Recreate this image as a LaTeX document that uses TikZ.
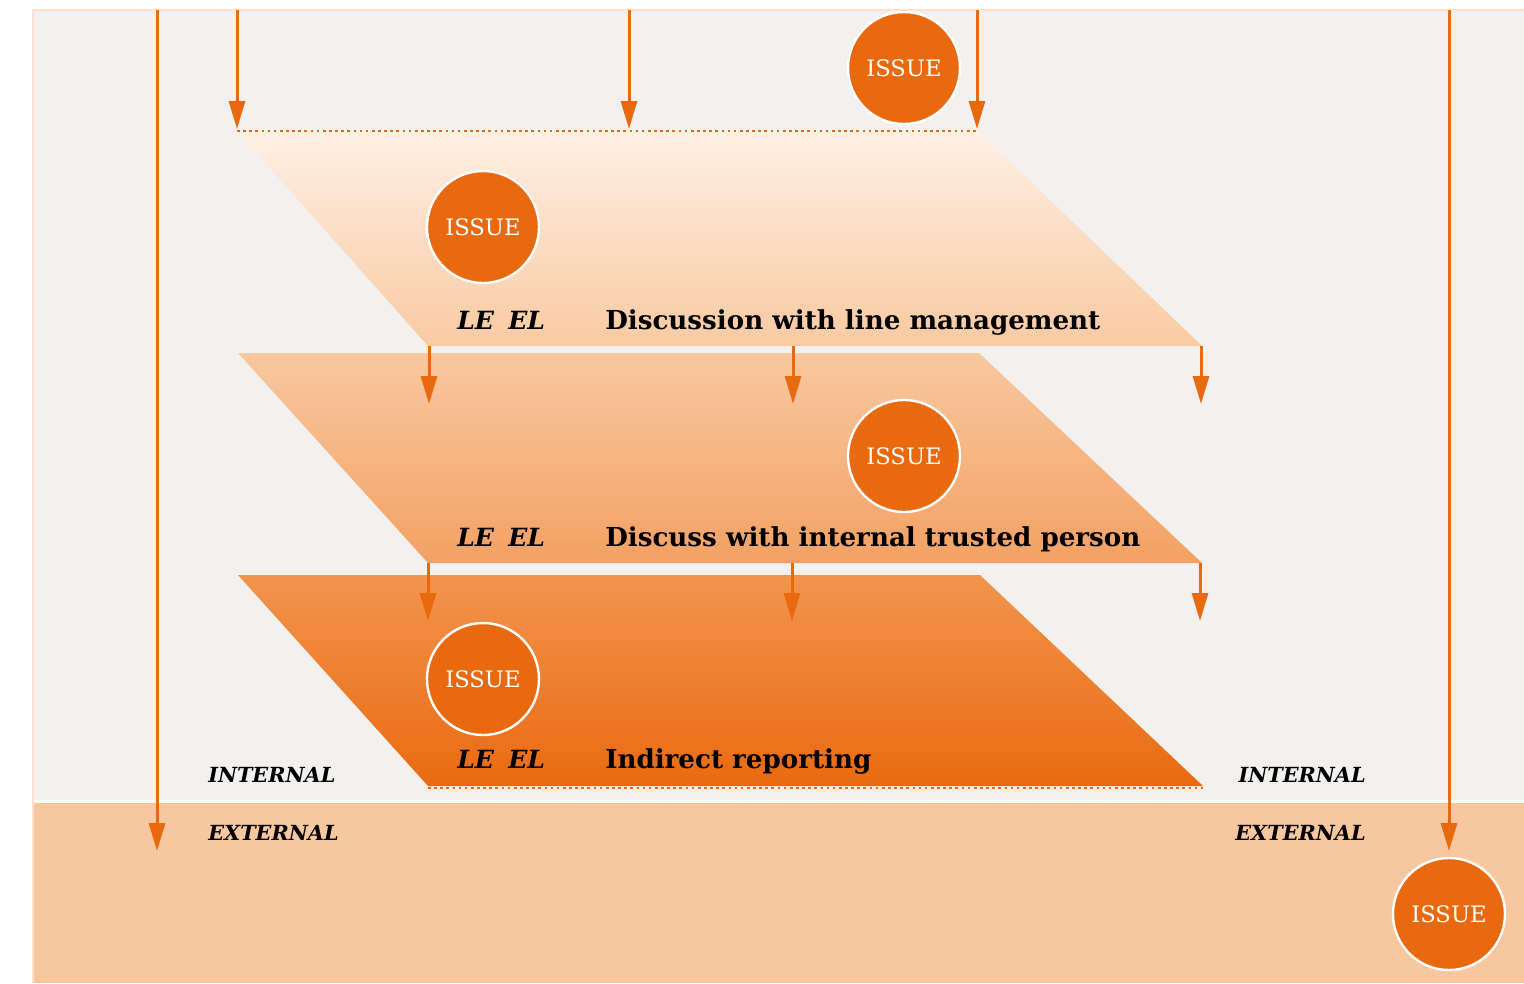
\documentclass[tikz,border=0pt]{standalone}
\usepackage{fontspec}
\setmainfont{DejaVu Serif}
\usetikzlibrary{arrows.meta}

\definecolor{accent}{HTML}{E9690E}
\definecolor{panelgray}{HTML}{F2F1EF}
\definecolor{panelrim}{HTML}{FCE2CE}
\definecolor{outerband}{HTML}{F7C79F}
\definecolor{layerAtop}{HTML}{FEF0E4}
\definecolor{layerAbot}{HTML}{F9CAA2}
\definecolor{layerBtop}{HTML}{F8C8A0}
\definecolor{layerBbot}{HTML}{F3A163}
\definecolor{layerCtop}{HTML}{F2944E}
\definecolor{layerCbot}{HTML}{EA6A10}

\begin{document}
\begin{tikzpicture}[x=0.75pt,y=-0.75pt,
  flow/.style={draw=accent, line width=2.25pt,
    -{Triangle[width=12pt,length=21pt]}},
  edgedots/.style={draw=accent, line width=2.1pt, dash pattern=on 2pt off 2.6pt},
  issue/.style={circle, fill=accent, draw=white, line width=1.8pt,
    minimum size=84pt, inner sep=0pt, text=white,
    font=\fontsize{17}{17}\selectfont},
  steplabel/.style={anchor=base west, inner sep=0pt, text=black,
    font=\bfseries\fontsize{19.6}{19.6}\selectfont},
  roletag/.style={anchor=base west, inner sep=0pt, text=black,
    font=\bfseries\itshape\fontsize{18.8}{18.8}\selectfont},
  zonetag/.style={inner sep=0pt, text=black,
    font=\bfseries\itshape\fontsize{15.6}{15.6}\selectfont}]
\useasboundingbox (0,0) rectangle (1524,983);

% internal area and external band
\fill[panelgray] (33,10) rectangle (1524,800);
\fill[outerband] (33,803) rectangle (1524,983);
\draw[panelrim, line width=1.5pt] (33,983) -- (33,10) -- (1524,10);

% the three escalation layers
\shade[top color=layerAtop, bottom color=layerAbot]
  (237,131) -- (978,131) -- (1202,346) -- (428,346) -- cycle;
\shade[top color=layerBtop, bottom color=layerBbot]
  (238,353) -- (979,353) -- (1202,563) -- (428,563) -- cycle;
\shade[top color=layerCtop, bottom color=layerCbot]
  (238,575) -- (980,575) -- (1203,786) -- (428,786) -- cycle;

% dotted edges
\coordinate (topL) at (237,131);
\coordinate (topR) at (978,131);
\coordinate (botL) at (428,788);
\coordinate (botR) at (1203,788);
\draw[edgedots] (topL) -- (topR);
\draw[edgedots] (botL) -- (botR);

% arrows entering from above
\coordinate (s0) at (157,10);  \coordinate (e0) at (157,851);
\coordinate (s1) at (237,10);  \coordinate (e1) at (237,129);
\coordinate (s2) at (629,10);  \coordinate (e2) at (629,129);
\coordinate (s3) at (977,10);  \coordinate (e3) at (977,129);
\coordinate (s4) at (1449,10); \coordinate (e4) at (1449,851);
\draw[flow] (s0) -- (e0);
\draw[flow] (s1) -- (e1);
\draw[flow] (s2) -- (e2);
\draw[flow] (s3) -- (e3);
\draw[flow] (s4) -- (e4);

% arrows between layers
\coordinate (a1) at (429,346);  \coordinate (b1) at (429,404);
\coordinate (a2) at (793,346);  \coordinate (b2) at (793,404);
\coordinate (a3) at (1201,346); \coordinate (b3) at (1201,404);
\coordinate (c1) at (428,563);  \coordinate (d1) at (428,621);
\coordinate (c2) at (792,563);  \coordinate (d2) at (792,621);
\coordinate (c3) at (1200,563); \coordinate (d3) at (1200,621);
\foreach \i in {1,2,3} {
  \draw[flow] (a\i) -- (b\i);
  \draw[flow] (c\i) -- (d\i);
}

% issues
\node[issue] (issueA) at (904,68)  {ISSUE};
\node[issue] (issueB) at (483,227) {ISSUE};
\node[issue] (issueC) at (904,456) {ISSUE};
\node[issue] (issueD) at (483,679) {ISSUE};
\node[issue] (issueE) at (1449,914) {ISSUE};

% layer captions
\node[roletag] (le1) at (457,329) {LE};
\node[roletag] (el1) at (508,329) {EL};
\node[steplabel] (step1) at (605,329) {Discussion with line management};
\node[roletag] (le2) at (457,546) {LE};
\node[roletag] (el2) at (508,546) {EL};
\node[steplabel] (step2) at (605,546) {Discuss with internal trusted person};
\node[roletag] (le3) at (457,768) {LE};
\node[roletag] (el3) at (508,768) {EL};
\node[steplabel] (step3) at (605,768) {Indirect reporting};

% zone names
\node[zonetag, anchor=base west] (inL) at (208,782) {INTERNAL};
\node[zonetag, anchor=base west] (exL) at (208,840) {EXTERNAL};
\node[zonetag, anchor=base east] (inR) at (1366,782) {INTERNAL};
\node[zonetag, anchor=base east] (exR) at (1366,840) {EXTERNAL};
\end{tikzpicture}
\end{document}
